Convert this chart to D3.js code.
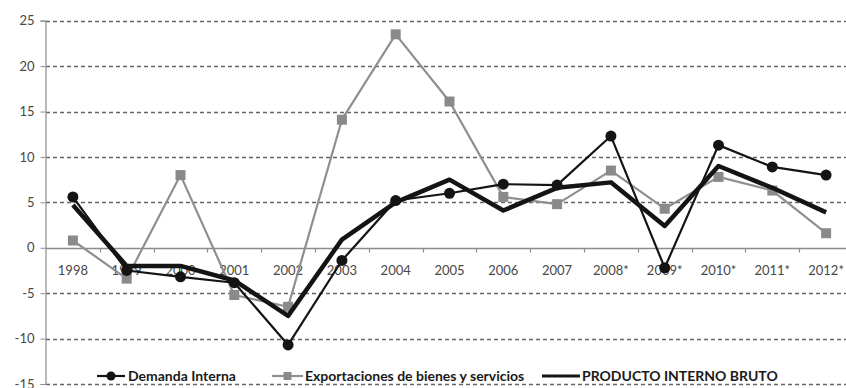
<!DOCTYPE html>
<html>
<head>
<meta charset="utf-8">
<script src="https://cdn.jsdelivr.net/npm/d3@7"></script>
<style>
  html, body { margin: 0; padding: 0; background: #fff; }
  svg { display: block; }
</style>
</head>
<body>
<svg id="chart" width="846" height="388"></svg>
<script>
// Years shown on the category axis (* = preliminary figures)
const years = ["1998", "1999", "2000", "2001", "2002", "2003", "2004", "2005",
               "2006", "2007", "2008*", "2009*", "2010*", "2011*", "2012*"];

// Annual growth rates, %
const demandaInterna = [5.6, -2.5, -3.2, -3.85, -10.7, -1.4, 5.2, 6.0,
                        7.0, 6.9, 12.3, -2.2, 11.3, 8.9, 8.0];
const exportaciones  = [0.8, -3.4, 8.0, -5.2, -6.5, 14.1, 23.5, 16.1,
                        5.6, 4.8, 8.5, 4.3, 7.8, 6.3, 1.6];
const pib            = [4.7, -2.0, -2.0, -3.6, -7.5, 0.9, 5.0, 7.5,
                        4.1, 6.6, 7.2, 2.4, 9.0, 6.6, 3.9];

const yTicks = [-15, -10, -5, 0, 5, 10, 15, 20, 25];

const svg = d3.select("#chart");
const font = "Lato, 'Open Sans', sans-serif";
const axisGrey = "#8c8c8c";
const labelColor = "#474747";

const x = d3.scaleBand().domain(years).range([46, 853]).padding(0);
const y = d3.scaleLinear().domain([-15, 25]).range([384, 20.7]);
const cx = d => x(d) + x.bandwidth() / 2;

// Dashed horizontal gridlines
svg.append("g")
  .selectAll("line")
  .data(yTicks.filter(t => t !== 0))
  .join("line")
  .attr("x1", 46).attr("x2", 846)
  .attr("y1", d => Math.round(y(d)) + 0.5).attr("y2", d => Math.round(y(d)) + 0.5)
  .attr("stroke", "#666")
  .attr("stroke-width", 1.3)
  .attr("stroke-dasharray", "4,3");

// Vertical value axis
const yAxis = d3.axisLeft(y).tickValues(yTicks).tickSize(5).tickPadding(6)
  .tickFormat(d3.format("d"));
const gy = svg.append("g").attr("transform", "translate(45.5,0)").call(yAxis);
gy.select(".domain").attr("stroke", axisGrey).attr("stroke-width", 1.2);
gy.selectAll(".tick line").attr("stroke", axisGrey);
gy.selectAll(".tick text")
  .attr("fill", labelColor)
  .style("font-family", font)
  .style("font-size", "13px")
  .text(d => d < 0 ? "-" + Math.abs(d) : d);

// Horizontal category axis at zero, ticks between categories
const zeroY = Math.round(y(0)) + 0.5;
svg.append("line")
  .attr("x1", 46).attr("x2", 846)
  .attr("y1", zeroY).attr("y2", zeroY)
  .attr("stroke", axisGrey).attr("stroke-width", 1.3);
svg.append("g")
  .selectAll("line")
  .data(years.slice(1))
  .join("line")
  .attr("x1", d => Math.round(x(d)) + 0.5).attr("x2", d => Math.round(x(d)) + 0.5)
  .attr("y1", zeroY).attr("y2", zeroY + 4)
  .attr("stroke", axisGrey).attr("stroke-width", 1.2);
svg.append("g")
  .selectAll("text")
  .data(years)
  .join("text")
  .attr("x", d => cx(d))
  .attr("y", zeroY + 26)
  .attr("text-anchor", "middle")
  .attr("fill", labelColor)
  .style("font-family", font)
  .style("font-size", "13px")
  .text(d => d);

const line = d3.line().x((d, i) => cx(years[i])).y(d => y(d));

// Exportaciones de bienes y servicios
svg.append("path")
  .datum(exportaciones)
  .attr("d", line)
  .attr("fill", "none")
  .attr("stroke", "#8f8f8f")
  .attr("stroke-width", 2.2)
  .attr("stroke-linejoin", "round");
svg.append("g")
  .selectAll("rect")
  .data(exportaciones)
  .join("rect")
  .attr("x", (d, i) => cx(years[i]) - 5)
  .attr("y", d => y(d) - 5)
  .attr("width", 10).attr("height", 10)
  .attr("fill", "#8a8a8a");

// Demanda Interna
svg.append("path")
  .datum(demandaInterna)
  .attr("d", line)
  .attr("fill", "none")
  .attr("stroke", "#141414")
  .attr("stroke-width", 2.2)
  .attr("stroke-linejoin", "round");
svg.append("g")
  .selectAll("circle")
  .data(demandaInterna)
  .join("circle")
  .attr("cx", (d, i) => cx(years[i]))
  .attr("cy", d => y(d))
  .attr("r", 5.5)
  .attr("fill", "#141414");

// Producto Interno Bruto
svg.append("path")
  .datum(pib)
  .attr("d", line)
  .attr("fill", "none")
  .attr("stroke", "#141414")
  .attr("stroke-width", 4.5)
  .attr("stroke-linejoin", "round");

// Legend
const legendY = 376;
const legend = svg.append("g").style("font-family", font)
  .style("font-size", "14px").style("font-weight", "bold");

const lg1 = legend.append("g");
lg1.append("line").attr("x1", 97).attr("x2", 125).attr("y1", legendY).attr("y2", legendY)
  .attr("stroke", "#141414").attr("stroke-width", 2.2);
lg1.append("circle").attr("cx", 111).attr("cy", legendY).attr("r", 4.5).attr("fill", "#141414");
lg1.append("text").attr("x", 128).attr("y", legendY + 5).attr("fill", "#1a1a1a")
  .text("Demanda Interna");

const lg2 = legend.append("g");
lg2.append("line").attr("x1", 272).attr("x2", 303).attr("y1", legendY).attr("y2", legendY)
  .attr("stroke", "#8f8f8f").attr("stroke-width", 2.2);
lg2.append("rect").attr("x", 283.5).attr("y", legendY - 4).attr("width", 8).attr("height", 8)
  .attr("fill", "#8a8a8a");
lg2.append("text").attr("x", 305).attr("y", legendY + 5).attr("fill", "#1a1a1a")
  .text("Exportaciones de bienes y servicios");

const lg3 = legend.append("g");
lg3.append("line").attr("x1", 542).attr("x2", 580).attr("y1", legendY).attr("y2", legendY)
  .attr("stroke", "#141414").attr("stroke-width", 3);
lg3.append("text").attr("x", 582).attr("y", legendY + 5).attr("fill", "#1a1a1a")
  .text("PRODUCTO INTERNO BRUTO");
</script>
</body>
</html>
